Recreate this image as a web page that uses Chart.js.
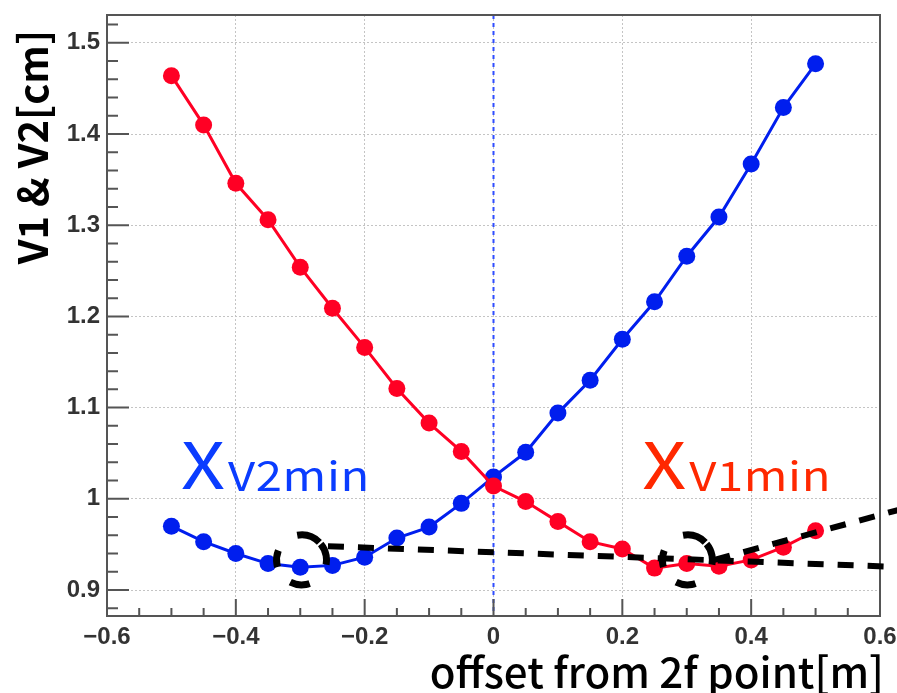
<!DOCTYPE html>
<html>
<head>
<meta charset="utf-8">
<script src="https://cdn.jsdelivr.net/npm/chart.js@4/dist/chart.umd.min.js"></script>
<style>
body { margin: 0; background: #fff; }
</style>
</head>
<body>
<canvas id="curve_chart" width="897" height="693"></canvas>
<script>
// offset from 2f point [m]
const offsets = [-0.5, -0.45, -0.4, -0.35, -0.3, -0.25, -0.2, -0.15, -0.1, -0.05, 0,
                 0.05, 0.1, 0.15, 0.2, 0.25, 0.3, 0.35, 0.4, 0.45, 0.5];
// V1 (red) and V2 (blue) [cm]
const v1 = [1.464, 1.410, 1.346, 1.306, 1.254, 1.209, 1.166, 1.121, 1.083, 1.052, 1.014,
            0.997, 0.975, 0.953, 0.945, 0.924, 0.929, 0.926, 0.933, 0.947, 0.965];
const v2 = [0.970, 0.953, 0.940, 0.929, 0.925, 0.927, 0.936, 0.957, 0.969, 0.995, 1.024,
            1.051, 1.094, 1.130, 1.175, 1.216, 1.266, 1.309, 1.367, 1.429, 1.477];

const xTicks = [-0.6, -0.4, -0.2, 0, 0.2, 0.4, 0.6];
const yTicks = [0.9, 1.0, 1.1, 1.2, 1.3, 1.4, 1.5];

// hand-drawn marks on the figure, in data units
const minMarks = [[-0.298, 0.933], [0.301, 0.933]];
const guideLines = [[[-0.257, 0.948], [0.64, 0.925]], [[0.343, 0.933], [0.64, 0.990]]];

const RED = 'rgb(255,0,36)';
const BLUE = 'rgb(0,30,238)';

function fmt(v) {
    if (Math.abs(v) < 1e-9) return '0';
    let s = String(Math.round(v * 10) / 10);
    return s.replace('-', '\u2212');
}

function noPad(s) {
    s.paddingTop = 0;
    s.paddingBottom = 0;
    s.paddingLeft = 0;
    s.paddingRight = 0;
}

const frame = {
    id: 'frame',
    beforeDatasetsDraw(chart) {
        const {ctx, chartArea: a, scales: {x, y}} = chart;
        // dotted blue line at 0
        ctx.save();
        ctx.strokeStyle = '#2f4dff';
        ctx.lineWidth = 2;
        ctx.setLineDash([4, 4]);
        ctx.beginPath();
        ctx.moveTo(x.getPixelForValue(0), a.top);
        ctx.lineTo(x.getPixelForValue(0), a.bottom);
        ctx.stroke();
        ctx.restore();
    },
    afterDatasetsDraw(chart) {
        const {ctx, chartArea: a, scales: {x, y}} = chart;
        ctx.save();
        // frame
        ctx.strokeStyle = '#555';
        ctx.lineWidth = 2;
        ctx.strokeRect(a.left, a.top, a.right - a.left, a.bottom - a.top);
        // inner ticks
        ctx.beginPath();
        for (let i = 0; i <= 33; i++) {
            const v = 0.88 + i * 0.02;
            if (v > 1.53) break;
            const py = y.getPixelForValue(v);
            const len = (Math.round(v * 100) % 10 === 0) ? 22 : 11;
            ctx.moveTo(a.left, py);
            ctx.lineTo(a.left + len, py);
        }
        for (let i = 0; i <= 24; i++) {
            const v = -0.6 + i * 0.05;
            const px = x.getPixelForValue(v);
            const len = (i % 4 === 0) ? 17 : 8;
            ctx.moveTo(px, a.bottom);
            ctx.lineTo(px, a.bottom - len);
        }
        ctx.stroke();

        // dashed guide lines
        ctx.strokeStyle = '#000';
        ctx.lineWidth = 6;
        ctx.setLineDash([16, 14]);
        guideLines.forEach(function (l) {
            ctx.beginPath();
            ctx.moveTo(x.getPixelForValue(l[0][0]), y.getPixelForValue(l[0][1]));
            ctx.lineTo(x.getPixelForValue(l[1][0]), y.getPixelForValue(l[1][1]));
            ctx.stroke();
        });
        // dashed circles round the minima
        ctx.lineWidth = 7;
        ctx.setLineDash([24, 2, 22, 26, 20, 20, 17, 26]);
        minMarks.forEach(function (m) {
            ctx.beginPath();
            ctx.arc(x.getPixelForValue(m[0]), y.getPixelForValue(m[1]), 25, -1.745, -1.745 + 2 * Math.PI);
            ctx.stroke();
        });
        ctx.setLineDash([]);

        // labels
        ctx.textBaseline = 'alphabetic';
        ctx.textAlign = 'left';
        [[-0.485, 'V2min', '#0a3cff'], [0.231, 'V1min', '#ff2800']].forEach(function (t) {
            const px = x.getPixelForValue(t[0]);
            const py = y.getPixelForValue(1.0115);
            ctx.fillStyle = t[2];
            ctx.font = '64px "Noto Sans CJK JP", "Liberation Sans", sans-serif';
            const w = ctx.measureText('X').width * 1.2;
            ctx.save();
            ctx.translate(px, py + 1);
            ctx.scale(1.2, 1);
            ctx.fillText('X', 0, 0);
            ctx.restore();
            ctx.font = '40px "Noto Sans CJK JP", "Liberation Sans", sans-serif';
            ctx.save();
            ctx.translate(px + w + 3, py + 3);
            ctx.scale(1.18, 1);
            ctx.letterSpacing = '0.5px';
            ctx.fillText(t[1], 0, 0);
            ctx.restore();
        });

        // axis titles
        ctx.fillStyle = '#000';
        ctx.font = '500 42px "Noto Sans CJK JP", "Noto Sans", sans-serif';
        ctx.textAlign = 'right';
        ctx.fillText('offset from 2f point[m]', 884, 688);
        ctx.translate(33, 30);
        ctx.rotate(-Math.PI / 2);
        ctx.textBaseline = 'middle';
        ctx.font = 'bold 40px "Noto Sans CJK JP", "Noto Sans", sans-serif';
        ctx.fillText('V1 & V2[cm]', 0, 0);
        ctx.restore();
    }
};

const ctx = document.getElementById('curve_chart').getContext('2d');
const myChart = new Chart(ctx, {
    type: 'line',
    data: {
        datasets: [{
            label: 'V1',
            data: offsets.map((o, i) => ({x: o, y: v1[i]})),
            borderColor: RED,
            backgroundColor: RED,
            borderWidth: 3,
            pointRadius: 8.5,
            pointBorderWidth: 0,
        }, {
            label: 'V2',
            data: offsets.map((o, i) => ({x: o, y: v2[i]})),
            borderColor: BLUE,
            backgroundColor: BLUE,
            borderWidth: 3,
            pointRadius: 8.5,
            pointBorderWidth: 0,
        }]
    },
    options: {
        responsive: false,
        animation: false,
        devicePixelRatio: 1,
        layout: { autoPadding: false, padding: { top: 15, right: 17, left: 0, bottom: 0 } },
        plugins: { legend: { display: false }, tooltip: { enabled: false } },
        scales: {
            x: {
                type: 'linear',
                min: -0.6,
                max: 0.6,
                afterBuildTicks: s => { s.ticks = xTicks.map(v => ({value: v})); },
                afterFit: s => { s.height = 77; noPad(s); },
                ticks: {
                    callback: v => fmt(v),
                    color: '#333',
                    font: { family: 'Liberation Sans', weight: 'bold', size: 24 },
                    padding: 7,
                    maxRotation: 0
                },
                grid: { color: '#c4c4c4', lineWidth: 1, drawTicks: false },
                border: { display: false, dash: [2, 2] }
            },
            y: {
                min: 0.8715,
                max: 1.5305,
                afterBuildTicks: s => { s.ticks = yTicks.map(v => ({value: v})); },
                afterFit: s => { s.width = 107; noPad(s); },
                ticks: {
                    callback: v => fmt(v),
                    color: '#333',
                    font: { family: 'Liberation Sans', weight: 'bold', size: 24 },
                    padding: 7
                },
                grid: { color: '#c4c4c4', lineWidth: 1, drawTicks: false },
                border: { display: false, dash: [2, 2] }
            }
        }
    },
    plugins: [frame]
});
</script>
</body>
</html>
